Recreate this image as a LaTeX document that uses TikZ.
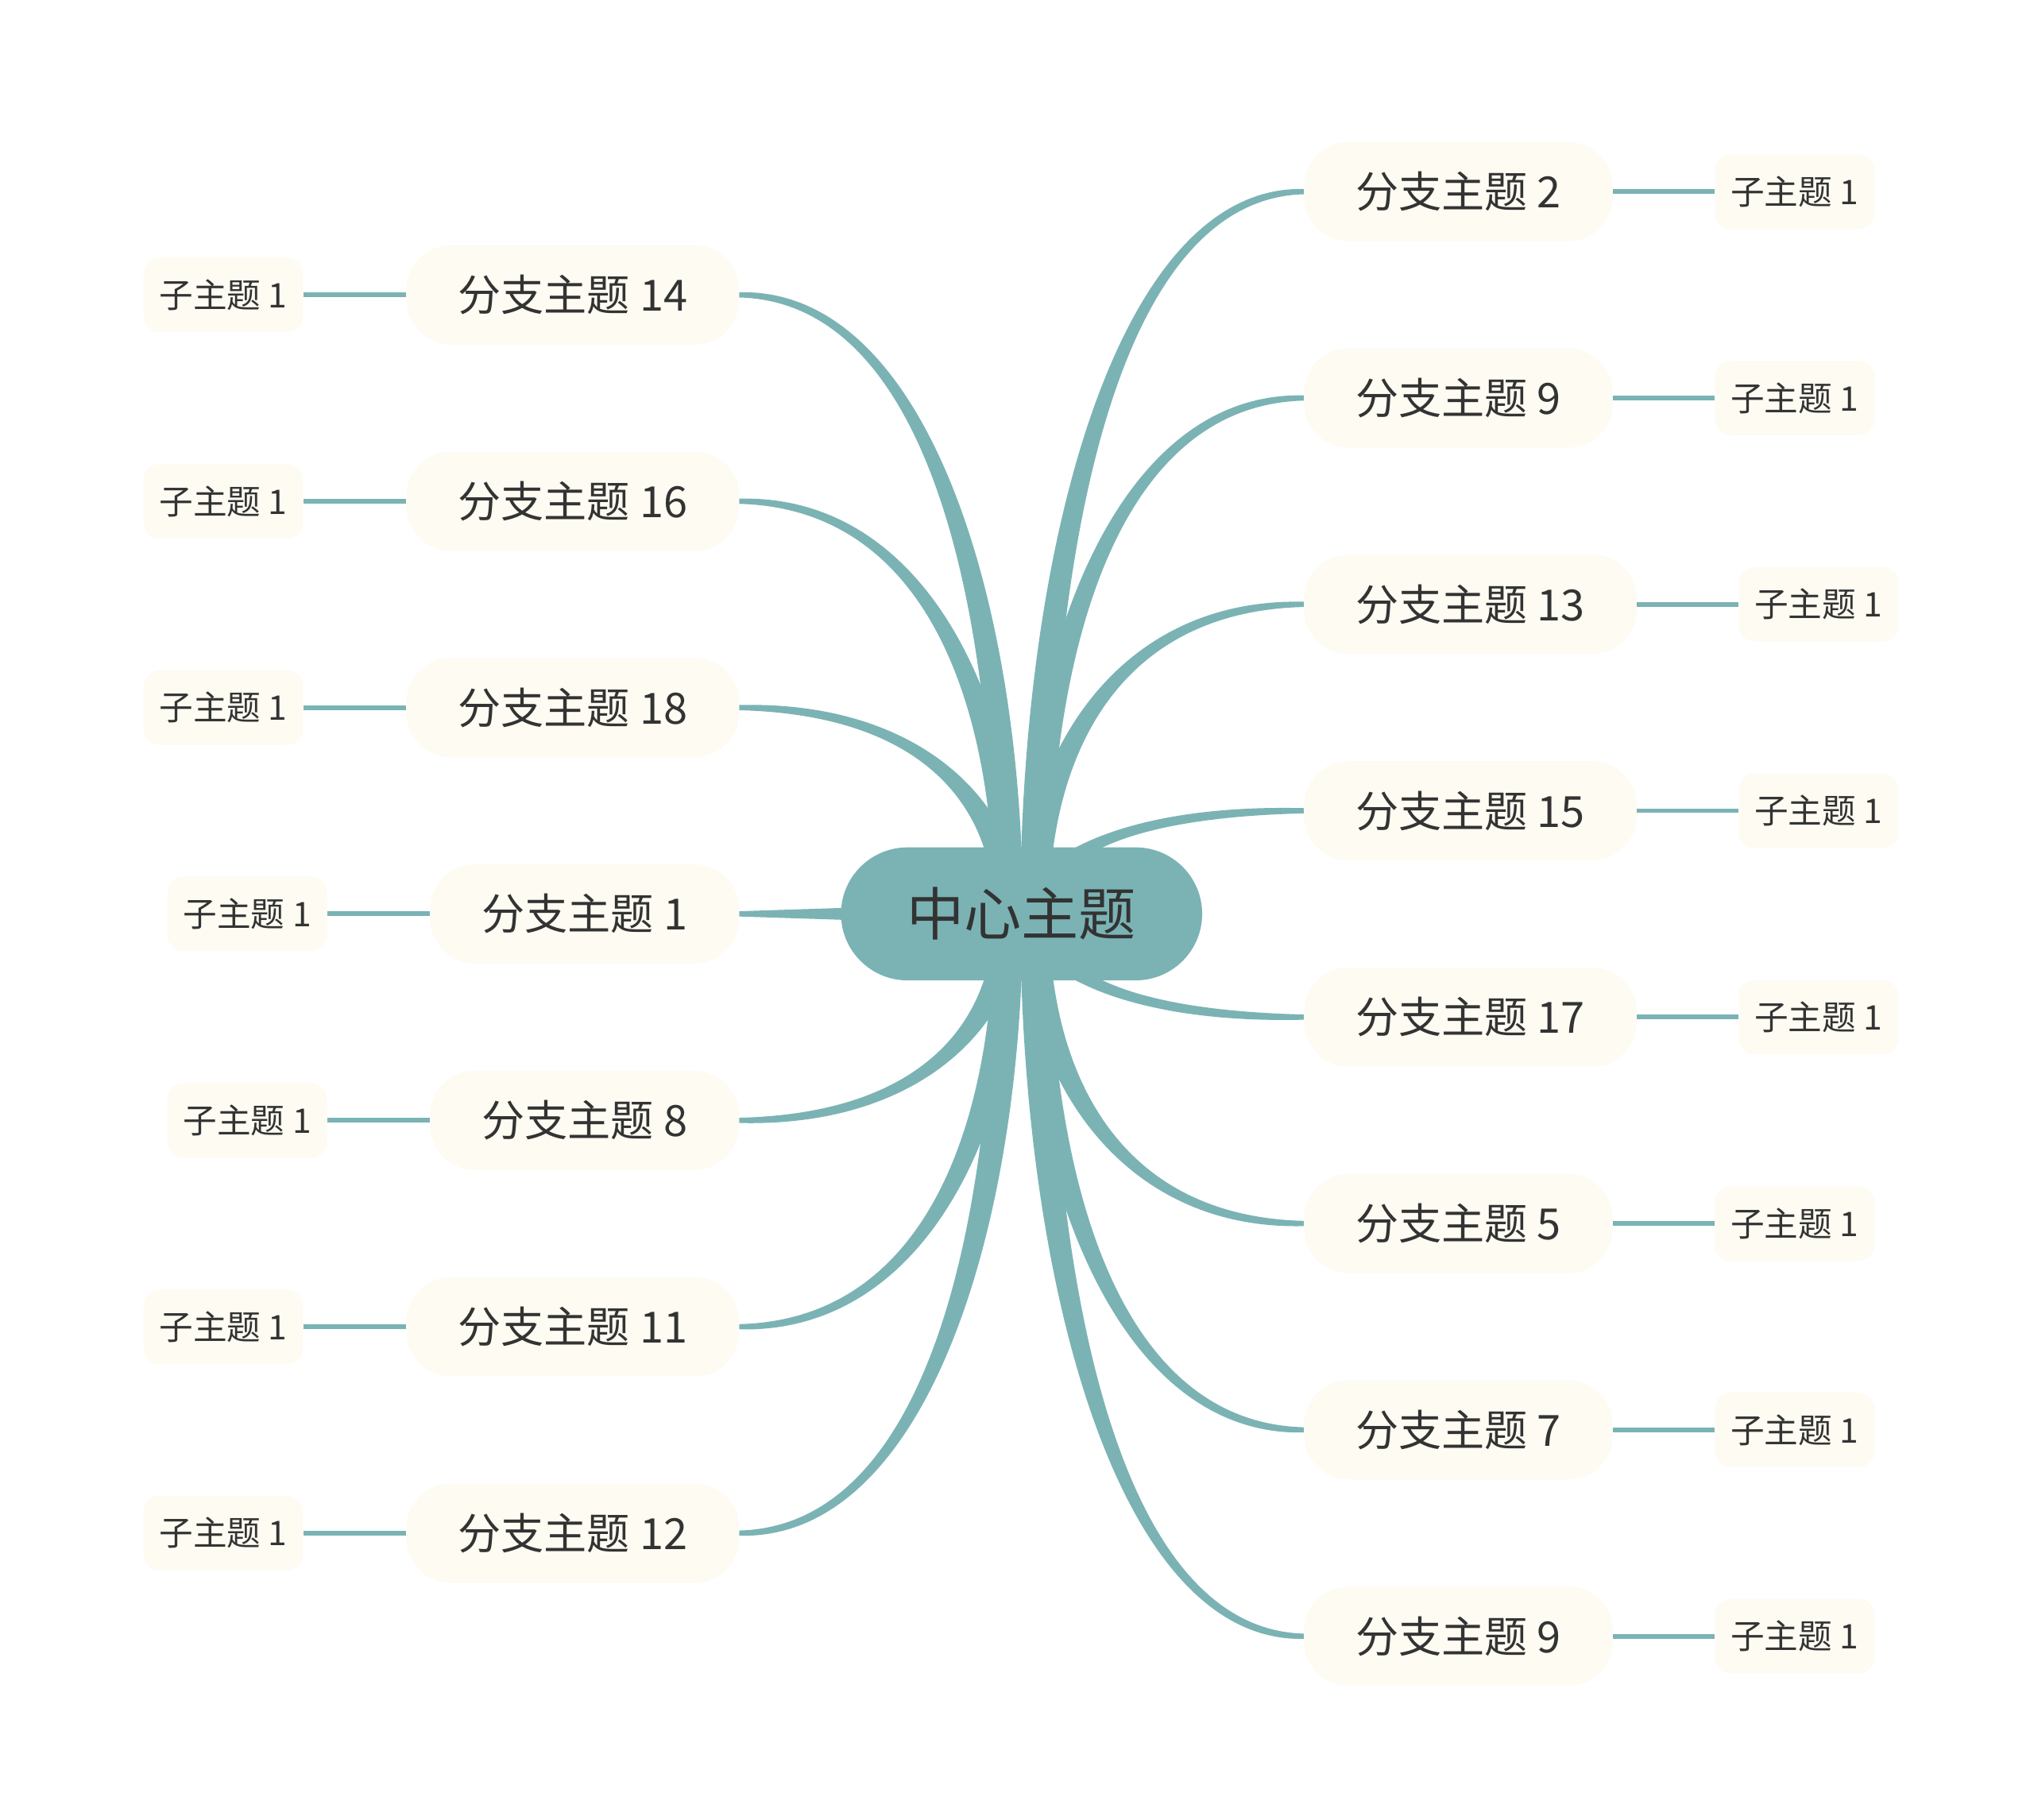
\documentclass[tikz,border=0pt]{standalone}
\usepackage{fontspec}
\setmainfont{Noto Sans CJK SC}
\usetikzlibrary{positioning,calc}

\definecolor{stemteal}{HTML}{7BB3B5}
\definecolor{cream}{HTML}{FDFBF2}
\definecolor{inkgray}{HTML}{333333}

\pgfdeclarelayer{paper}
\pgfdeclarelayer{stems}
\pgfsetlayers{paper,stems,main}

\tikzset{
  core/.style={fill=stemteal, text=inkgray, rounded corners=51pt,
    minimum width=277pt, minimum height=102pt, font=\fontsize{44}{52}\selectfont},
  branch/.style={fill=cream, text=inkgray, rounded corners=34pt,
    inner xsep=39.5pt, minimum height=76pt, font=\fontsize{33}{39}\selectfont},
  leaf/.style={fill=cream, text=inkgray, rounded corners=12pt,
    inner xsep=12pt, minimum height=57pt, font=\fontsize{26}{31}\selectfont},
  twig/.style={draw=stemteal, line width=3.5pt},
}

% tapered stem: root, end anchor, signed end offset
\newcommand{\stem}[3]{%
  \path (#1) coordinate (s0) (#2) coordinate (e0);
  \path ($(s0)!0.5!(s0 |- e0)$) coordinate (c1)
        ($(s0 |- e0)!0.3!(e0)$) coordinate (c2);
  \fill[stemteal] ($(s0)+(-11,0)$) .. controls ($(c1)+(-11,0)$) and ($(c2)+(0,2.75*#3)$) .. ($(e0)+(0,#3)$)
    -- ($(e0)-(0,#3)$) .. controls ($(c2)-(0,2.75*#3)$) and ($(c1)+(11,0)$) .. ($(s0)+(11,0)$) -- cycle;
}

\begin{document}
\begin{tikzpicture}[x=1pt, y=-1pt]
  \begin{pgfonlayer}{paper}
    \fill[white] (0,0) rectangle (1560,1396);
  \end{pgfonlayer}
  \useasboundingbox (0,0) rectangle (1560,1396);

  % centre
  \node[core] (core) at (783.5,701) {中心主题};
  \coordinate (rootR) at ($(core.center)+(10,0)$);
  \coordinate (rootL) at ($(core.center)+(-10,0)$);

  % right branches
  \foreach \i/\num/\y/\s in {1/2/147.0/-2, 2/9/305.3/-2, 3/13/463.6/-2, 4/15/621.9/-2,
                              5/17/780.2/2, 6/5/938.5/2, 7/7/1096.8/2, 8/9/1255.1/2} {
    \node[branch, anchor=west] (bR\i) at (1000,\y) {分支主题 \num};
    \node[leaf, right=78pt of bR\i] (lR\i) {子主题 1};
    \draw[twig] (bR\i) -- (lR\i);
    \begin{pgfonlayer}{stems}
      \stem{rootR}{bR\i.west}{\s}
    \end{pgfonlayer}
  }

  % left branches
  \foreach \i/\num/\y/\s in {1/14/226.2/2, 2/16/384.5/2, 3/18/542.8/2, 4/1/701.0/0,
                              5/8/859.4/-2, 6/11/1017.7/-2, 7/12/1176.0/-2} {
    \node[branch, anchor=east] (bL\i) at (567,\y) {分支主题 \num};
    \node[leaf, left=79pt of bL\i] (lL\i) {子主题 1};
    \draw[twig] (bL\i) -- (lL\i);
    \begin{pgfonlayer}{stems}
      \ifnum\s=0
        \fill[stemteal] ($(core.center)+(0,-9)$) -- ($(bL\i.east)+(0,-2)$)
          -- ($(bL\i.east)+(0,2)$) -- ($(core.center)+(0,9)$) -- cycle;
      \else
        \stem{rootL}{bL\i.east}{\s}
      \fi
    \end{pgfonlayer}
  }
\end{tikzpicture}
\end{document}
